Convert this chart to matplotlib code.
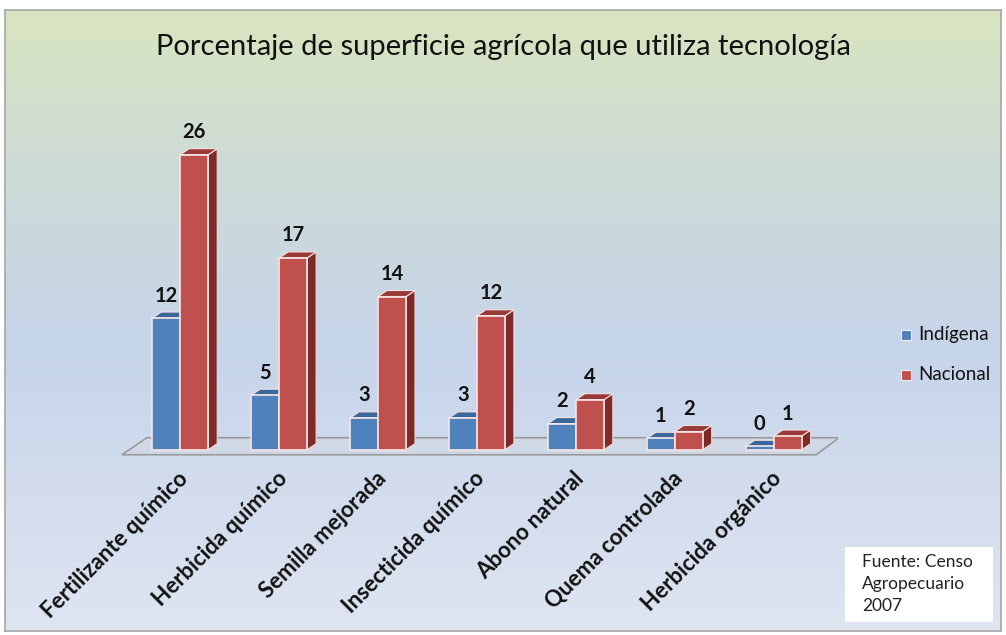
import numpy as np
import matplotlib.pyplot as plt
from matplotlib.patches import Polygon, Rectangle
from matplotlib.colors import LinearSegmentedColormap

categories = ["Fertilizante químico", "Herbicida químico", "Semilla mejorada",
              "Insecticida químico", "Abono natural", "Quema controlada",
              "Herbicida orgánico"]
indigena = [11.6, 4.8, 2.8, 2.8, 2.3, 1.0, 0.3]
nacional = [26.0, 16.9, 13.5, 11.8, 4.4, 1.6, 1.2]
indigena_labels = [12, 5, 3, 3, 2, 1, 0]
nacional_labels = [26, 17, 14, 12, 4, 2, 1]
series_names = ["Indígena", "Nacional"]

plt.rcParams['font.family'] = ['Lato', 'DejaVu Sans']

fig = plt.figure(figsize=(10.06, 6.35), dpi=100)

# background gradient panel
bg = fig.add_axes([5 / 1006, 4 / 635, 996 / 1006, 621 / 635])
cmap = LinearSegmentedColormap.from_list(
    "bg", [(0.0, "#d9e5bf"), (0.25, "#cddbd6"), (0.55, "#c6d4ea"), (1.0, "#dfe5f1")])
grad = np.linspace(0, 1, 256).reshape(-1, 1)
bg.imshow(grad, aspect='auto', cmap=cmap, extent=[0, 1, 0, 1], origin='upper')
bg.set_xlim(0, 1)
bg.set_ylim(0, 1)
bg.set_xticks([])
bg.set_yticks([])
for s in bg.spines.values():
    s.set_color('#a6a6a6')
    s.set_linewidth(1.2)

ax = fig.add_axes([121 / 1006, 174 / 635, 717 / 1006, 329 / 635])
ax.set_xlim(-0.6, 6.65)
ax.set_ylim(-1, 28)
ax.axis('off')

w = 0.283          # bar width
dx, dy = 0.09, 0.53  # depth offsets

# floor
n = len(categories)
fl, fr = -0.59, 6.43
ax.add_patch(Polygon([(fl, -0.45), (fr, -0.45), (fr + 0.23, 1.05), (fl + 0.25, 1.05)],
                     closed=True, facecolor='#d0d8e6', edgecolor='#9a9a9a', lw=1.2, zorder=1))


def bar3d(x0, h, front, top, side):
    ax.add_patch(Polygon([(x0 + w, 0), (x0 + w + dx, dy), (x0 + w + dx, h + dy), (x0 + w, h)],
                         closed=True, facecolor=side, edgecolor='#f3d9d9', lw=0.8, zorder=3))
    ax.add_patch(Polygon([(x0, h), (x0 + w, h), (x0 + w + dx, h + dy), (x0 + dx, h + dy)],
                         closed=True, facecolor=top, edgecolor='#f3e3e3', lw=0.8, zorder=3))
    ax.add_patch(Rectangle((x0, 0), w, h, facecolor=front, edgecolor='#f5e6e6',
                           lw=1.2, zorder=4))


for i in range(n):
    bar3d(i - w, indigena[i], '#4f81bd', '#3b679c', '#2f5380')
    bar3d(i, nacional[i], '#c0504d', '#9a3a38', '#7d2a28')
    ax.text(i - w / 2, indigena[i] + dy + 1.45, str(indigena_labels[i]), ha='center',
            va='center', fontsize=14.5, fontweight='bold', color='#111111', zorder=5)
    ax.text(i + w / 2, nacional[i] + dy + 1.45, str(nacional_labels[i]), ha='center',
            va='center', fontsize=14.5, fontweight='bold', color='#111111', zorder=5)
    ax.text(i - 0.03, -1.6, categories[i], rotation=45, rotation_mode='anchor',
            ha='right', va='top', fontsize=16, fontweight='bold', color='#111111',
            clip_on=False)

fig.text(0.5, 1 - 47 / 635, "Porcentaje de superficie agrícola que utiliza tecnología",
         ha='center', va='center', fontsize=21, color='#111111')

# legend
for k, (name, col) in enumerate(zip(series_names, ['#4f81bd', '#c0504d'])):
    yk = 1 - (335 + 40 * k) / 635
    fig.patches.append(Rectangle((901 / 1006, yk - 5 / 635), 10 / 1006, 10 / 635,
                                 transform=fig.transFigure, facecolor=col,
                                 edgecolor='#eeeeee', lw=0.8))
    fig.text(918 / 1006, yk, name, ha='left', va='center', fontsize=13.5,
             color='#111111')

# source note
fig.patches.append(Rectangle((845 / 1006, 1 - 622 / 635), 148 / 1006, 75 / 635,
                             transform=fig.transFigure, facecolor='white',
                             edgecolor='none'))
fig.text(862 / 1006, 1 - 584 / 635, "Fuente: Censo\nAgropecuario\n2007", ha='left',
         va='center', fontsize=12.5, linespacing=1.45, color='#222222')

fig.savefig("out.png", dpi=100)
